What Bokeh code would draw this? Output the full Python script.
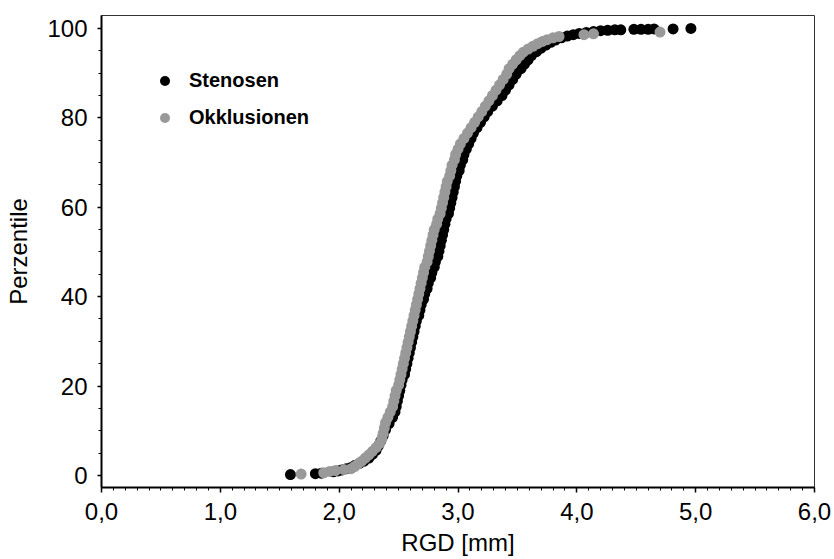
from bokeh.plotting import figure
from bokeh.models import Range1d, FixedTicker, Legend, LegendItem
from bokeh.embed import file_html
from bokeh.resources import INLINE

# Stenosen (black) - RGD [mm] vs percentile
sten_x = [1.59, 1.80, 1.85, 1.95, 1.99, 2.02, 2.06, 2.10, 2.13, 2.17, 2.21, 2.25, 2.28,
          2.31, 2.33, 2.35, 2.37, 2.39, 2.42,
          2.45, 2.47, 2.48, 2.49, 2.50, 2.51, 2.52, 2.53, 2.55, 2.56, 2.57, 2.58, 2.59,
          2.60, 2.61, 2.62, 2.63, 2.64, 2.65, 2.67, 2.68, 2.69, 2.71, 2.72, 2.74, 2.75,
          2.77, 2.78, 2.80, 2.81, 2.83, 2.84, 2.85, 2.86, 2.87, 2.88, 2.89, 2.90, 2.92,
          2.93, 2.94, 2.95, 2.96, 2.97, 2.98, 2.99, 3.01, 3.02, 3.04, 3.05, 3.07, 3.09,
          3.11, 3.13, 3.16, 3.19, 3.22, 3.25, 3.29, 3.33, 3.37, 3.40, 3.43, 3.46, 3.49,
          3.53, 3.56, 3.59, 3.62, 3.66, 3.70, 3.74, 3.78, 3.82, 3.87, 3.92, 3.97, 4.02,
          4.08, 4.14, 4.20, 4.26, 4.32, 4.37, 4.48, 4.54, 4.60, 4.65, 4.81, 4.96]
sten_y = [0.2, 0.4, 0.5, 0.8, 1.0, 1.2, 1.5, 1.8, 2.2, 2.7, 3.2, 3.9, 4.7,
          5.6, 6.6, 7.7, 8.9, 10.2, 11.6,
          13.0, 14.2, 15.4, 16.6, 17.8, 19.0, 20.2, 21.4, 22.6, 23.8, 25.0, 26.2, 27.4,
          28.6, 29.8, 31.0, 32.2, 33.4, 34.6, 35.8, 37.0, 38.2, 39.4, 40.6, 41.8, 43.0,
          44.2, 45.4, 46.6, 47.8, 49.0, 50.2, 51.4, 52.6, 53.8, 55.0, 56.2, 57.4, 58.6,
          59.8, 61.0, 62.2, 63.4, 64.6, 65.8, 67.0, 68.2, 69.4, 70.6, 71.8, 73.0, 74.2,
          75.4, 76.6, 77.8, 79.0, 80.2, 81.4, 82.6, 83.8, 85.0, 86.2, 87.4, 88.6, 89.8,
          91.0, 92.0, 93.0, 94.0, 94.8, 95.6, 96.3, 96.9, 97.4, 97.9, 98.3, 98.6, 98.9,
          99.1, 99.3, 99.5, 99.6, 99.7, 99.7, 99.8, 99.8, 99.8, 99.9, 99.9, 100.0]

# Okklusionen (grey)
okkl_x = [1.68, 1.87, 1.92, 1.97, 2.04, 2.10, 2.13, 2.16, 2.19, 2.22, 2.25, 2.28, 2.31,
          2.34, 2.36, 2.37, 2.38, 2.39, 2.41, 2.43, 2.45, 2.46, 2.47, 2.48, 2.50, 2.51,
          2.52, 2.53, 2.54, 2.55, 2.56, 2.57, 2.58, 2.59, 2.60, 2.61, 2.62, 2.63, 2.64,
          2.65, 2.66, 2.67, 2.68, 2.69, 2.70, 2.71, 2.72, 2.74, 2.75, 2.76, 2.77, 2.78,
          2.79, 2.80, 2.82, 2.83, 2.85, 2.86, 2.87, 2.88, 2.89, 2.90, 2.91, 2.93, 2.94,
          2.95, 2.97, 2.98, 3.00, 3.02, 3.05, 3.08, 3.11, 3.14, 3.17, 3.20, 3.23, 3.26,
          3.29, 3.32, 3.35, 3.38, 3.41, 3.43, 3.46, 3.49, 3.52, 3.55, 3.59, 3.63, 3.67,
          3.71, 3.75, 3.80, 3.85, 4.06, 4.14, 4.70]
okkl_y = [0.3, 0.6, 0.9, 1.1, 1.3, 1.5, 2.0, 2.6, 3.2, 3.9, 4.6, 5.4, 6.2,
          7.1, 8.2, 9.4, 10.6, 11.8, 13.0, 14.2, 15.4, 16.6, 17.8, 19.0, 20.2, 21.4,
          22.6, 23.8, 25.0, 26.2, 27.4, 28.6, 29.8, 31.0, 32.2, 33.4, 34.6, 35.8, 37.0,
          38.2, 39.4, 40.6, 41.8, 43.0, 44.2, 45.4, 46.6, 47.8, 49.0, 50.2, 51.4, 52.6,
          53.8, 55.0, 56.2, 57.4, 58.6, 59.8, 61.0, 62.2, 63.4, 64.6, 65.8, 67.0, 68.2,
          69.4, 70.6, 71.8, 73.0, 74.2, 75.4, 76.6, 77.8, 79.0, 80.2, 81.4, 82.6, 83.8,
          85.0, 86.2, 87.4, 88.6, 89.8, 91.0, 92.0, 93.0, 93.9, 94.7, 95.4, 96.0, 96.6,
          97.1, 97.5, 97.9, 98.2, 98.6, 98.8, 99.2]

x_ticks = [0, 1, 2, 3, 4, 5, 6]
x_tick_labels = ["0,0", "1,0", "2,0", "3,0", "4,0", "5,0", "6,0"]
y_ticks = [0, 20, 40, 60, 80, 100]

FONT = "Liberation Sans"

p = figure(width=834, height=559, output_backend="svg", toolbar_location=None,
           x_range=Range1d(0, 6), y_range=Range1d(-2.7, 102.9),
           min_border_left=101, min_border_right=20, min_border_top=15, min_border_bottom=72)
p.grid.visible = False
p.outline_line_color = "#333333"
p.outline_line_width = 1
p.background_fill_color = "white"
p.border_fill_color = "white"

r1 = p.scatter(sten_x, sten_y, size=11, fill_color="#000000", line_color=None)
r2 = p.scatter(okkl_x, okkl_y, size=11, fill_color="#999999", line_color=None)

xminor = [round(i * 0.1, 1) for i in range(61) if i % 10 != 0]
yminor = [v for v in range(0, 101, 5) if v % 20 != 0]

p.xaxis.ticker = FixedTicker(ticks=x_ticks, minor_ticks=xminor)
p.xaxis.major_label_overrides = {t: l for t, l in zip(x_ticks, x_tick_labels)}
p.yaxis.ticker = FixedTicker(ticks=y_ticks, minor_ticks=yminor)

for ax in (p.xaxis[0], p.yaxis[0]):
    ax.axis_line_color = "black"
    ax.axis_line_width = 2
    ax.major_tick_line_color = "black"
    ax.major_tick_line_width = 1.5
    ax.minor_tick_line_color = "black"
    ax.minor_tick_line_width = 1
    ax.major_tick_in = 0
    ax.minor_tick_in = 0
    ax.major_label_text_font = FONT
    ax.major_label_text_font_size = "24px"
    ax.major_label_text_color = "black"
    ax.axis_label_text_font = FONT
    ax.axis_label_text_font_size = "24px"
    ax.axis_label_text_font_style = "normal"
    ax.axis_label_text_color = "black"

p.xaxis.major_tick_out = 5
p.xaxis.minor_tick_out = 3
p.yaxis.major_tick_out = 4
p.yaxis.minor_tick_out = 3
p.xaxis.major_label_standoff = 10
p.yaxis.major_label_standoff = 10
p.xaxis.axis_label = "RGD [mm]"
p.yaxis.axis_label = "Perzentile"
p.xaxis.axis_label_standoff = 6
p.yaxis.axis_label_standoff = 12

legend = Legend(items=[LegendItem(label="Stenosen", renderers=[r1]),
                       LegendItem(label="Okklusionen", renderers=[r2])],
                location=(51, 357), margin=0, padding=0,
                glyph_width=25, glyph_height=25, label_height=25,
                label_standoff=12, spacing=12,
                label_text_font=FONT, label_text_font_size="20px",
                label_text_font_style="bold", label_text_color="black",
                border_line_color=None, background_fill_alpha=0)
p.add_layout(legend)

open("out.html", "w").write(file_html(p, INLINE))
